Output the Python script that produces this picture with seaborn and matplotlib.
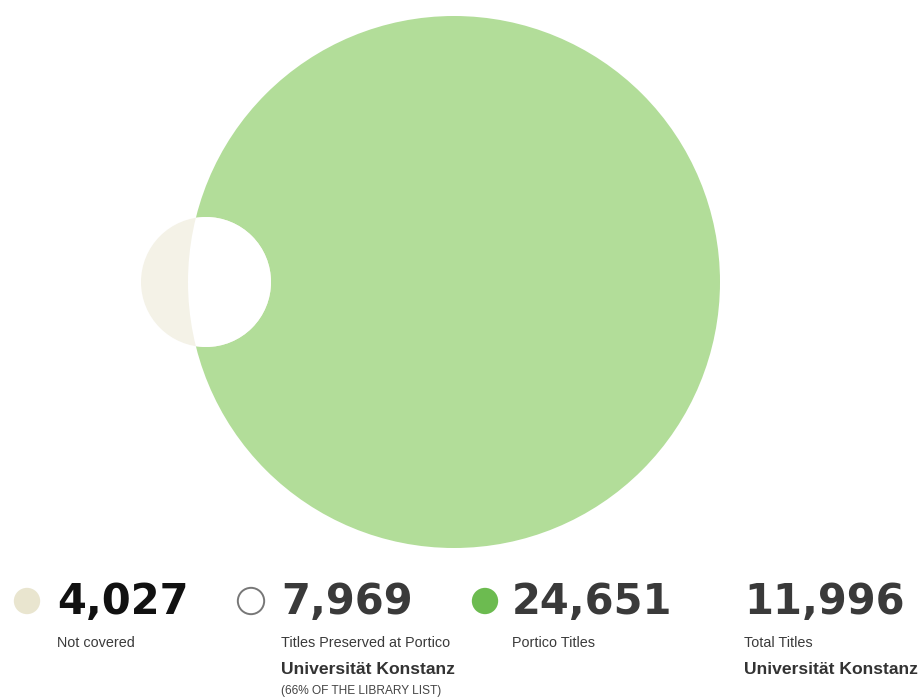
import matplotlib
matplotlib.use("Agg")
import matplotlib.pyplot as plt
from matplotlib.patches import Circle
import seaborn as sns
import pandas as pd

sns.set_theme(style="white")
plt.rcParams['font.family'] = ['DejaVu Sans']

# ---- data ----
categories = ["Not covered", "Titles Preserved at Portico", "Portico Titles", "Total Titles"]
values = [4027, 7969, 24651, 11996]
value_labels = ["4,027", "7,969", "24,651", "11,996"]
library_name = "Universität Konstanz"
share_note = "(66% OF THE LIBRARY LIST)"

fig = plt.figure(figsize=(9.2, 7), dpi=100)
ax = fig.add_axes([0, 0, 1, 1])

green_big = "#b2dd99"
beige_light = "#f4f2e7"
beige_dot = "#e9e5cf"
green_dot = "#6cbb50"

# Venn circles
big = Circle((454, 282), 266, facecolor=green_big, edgecolor='none', zorder=1)
ax.add_patch(big)
small = Circle((206, 282), 65, facecolor=beige_light, edgecolor='none', zorder=2)
ax.add_patch(small)
inter = Circle((206, 282), 65, facecolor='white', edgecolor='none', zorder=3)
ax.add_patch(inter)
inter.set_clip_path(big)

# legend dots via seaborn
dots = pd.DataFrame({
    "x": [27, 251, 485],
    "y": [601, 601, 601],
    "cat": categories[:3],
})
sns.scatterplot(data=dots, x="x", y="y", hue="cat",
                palette=[beige_dot, "white", green_dot], s=360,
                edgecolor=["none", "#777777", "none"], linewidth=[0, 1.4, 0],
                legend=False, ax=ax, zorder=5)
ax.set_xlim(0, 920)
ax.set_ylim(700, 0)
ax.set_aspect('equal')
ax.axis('off')

num_x = [57, 281, 512, 744]
num_colors = ["#111111", "#3a3a3a", "#3a3a3a", "#3a3a3a"]
for i in range(4):
    ax.text(num_x[i], 602, value_labels[i], fontsize=30, fontweight='bold',
            color=num_colors[i], ha='left', va='center', family='DejaVu Sans')
    ax.text(num_x[i], 643, categories[i], fontsize=10.4, color="#3a3a3a",
            ha='left', va='center', family='Liberation Sans')

for x in (281, 744):
    ax.text(x, 669, library_name, fontsize=12.6, fontweight='bold', color="#333333",
            ha='left', va='center', family='Liberation Sans')
ax.text(281, 691, share_note, fontsize=8.6, color="#444444",
        ha='left', va='center', family='Liberation Sans')

fig.savefig("out.png", dpi=100, facecolor='white')
